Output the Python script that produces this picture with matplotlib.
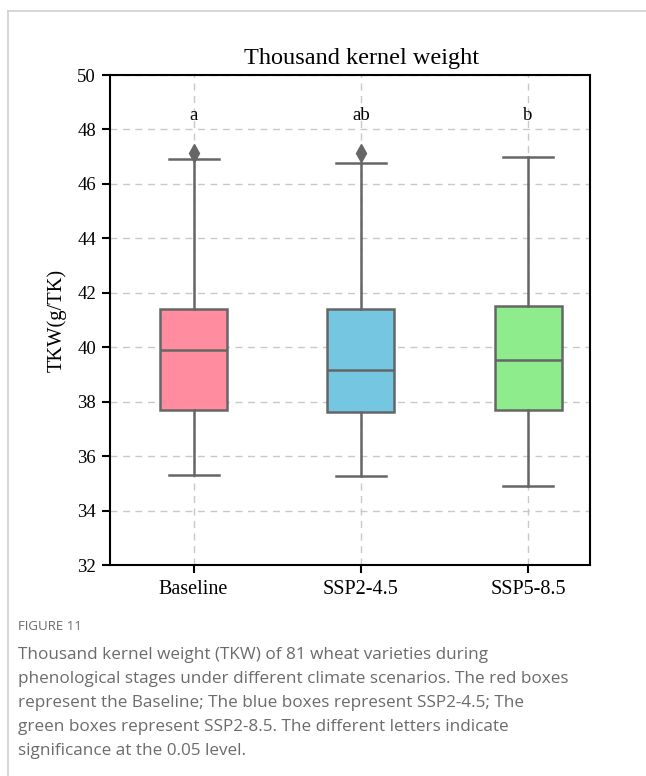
import matplotlib
matplotlib.use("Agg")
import matplotlib.pyplot as plt
from matplotlib.lines import Line2D

categories = ["Baseline", "SSP2-4.5", "SSP5-8.5"]
q1 = [37.68, 37.62, 37.68]
median = [39.89, 39.18, 39.52]
q3 = [41.39, 41.39, 41.51]
whislo = [35.30, 35.27, 34.92]
whishi = [46.90, 46.78, 46.99]
outliers = [[47.12], [47.12], []]
letters = ["a", "ab", "b"]
letter_y = 48.5
colors = ["#FF8C9F", "#74C6E1", "#8FEC8C"]
yticks = [32, 34, 36, 38, 40, 42, 44, 46, 48, 50]

serif = ["Liberation Serif", "DejaVu Serif"]
fig = plt.figure(figsize=(6.46, 7.76), dpi=100)
ax = fig.add_axes([110/646, 1-565/776, 480/646, 490/776])

stats = []
for i in range(len(categories)):
    stats.append(dict(q1=q1[i], med=median[i], q3=q3[i], whislo=whislo[i],
                      whishi=whishi[i], fliers=outliers[i], label=categories[i]))
edge = "#666666"
bp = ax.bxp(stats, positions=range(len(categories)), widths=0.4, patch_artist=True,
            boxprops=dict(edgecolor=edge, linewidth=1.8),
            medianprops=dict(color=edge, linewidth=1.8),
            whiskerprops=dict(color=edge, linewidth=1.8),
            capprops=dict(color=edge, linewidth=1.8),
            flierprops=dict(marker="d", markerfacecolor=edge, markeredgecolor=edge, markersize=9),
            capwidths=0.3, zorder=3)
for patch, c in zip(bp["boxes"], colors):
    patch.set_facecolor(c)

for i, t in enumerate(letters):
    ax.text(i, letter_y, t, ha="center", va="center", fontsize=13.5, family=serif, zorder=4)

ax.set_xlim(-0.5, 2.37)
ax.set_ylim(32, 50)
ax.set_yticks(yticks)
ax.grid(True, linestyle=(0, (5, 4)), color="#c8c8c8", linewidth=1.0, zorder=0)
ax.set_axisbelow(True)
for s in ax.spines.values():
    s.set_linewidth(1.5)
    s.set_color("black")
ax.tick_params(axis="both", direction="out", length=6, width=1.5, pad=4)
ax.tick_params(axis="x", labelsize=14.5, pad=5)
ax.tick_params(axis="y", labelsize=13.5)
for lab in ax.get_xticklabels() + ax.get_yticklabels():
    lab.set_family(serif)
ax.set_ylabel("TKW(g/TK)", fontsize=14.8, family=serif, labelpad=8)
ax.set_title("Thousand kernel weight", fontsize=17.5, family=serif, pad=8, x=0.525)

# outer frame
fig.add_artist(Line2D([8/646, 1], [1-11/776, 1-11/776], color="#d0d0d0", linewidth=1.2))
fig.add_artist(Line2D([8/646, 8/646], [0, 1-11/776], color="#d0d0d0", linewidth=1.2))

cap_font = ["Open Sans", "DejaVu Sans"]
fig.text(18/646, 1-627/776, "FIGURE 11", fontsize=9.5, color="#6b6b6b", family=cap_font, va="center")
caption = ["Thousand kernel weight (TKW) of 81 wheat varieties during",
           "phenological stages under different climate scenarios. The red boxes",
           "represent the Baseline; The blue boxes represent SSP2-4.5; The",
           "green boxes represent SSP2-8.5. The different letters indicate",
           "significance at the 0.05 level."]
for k, line in enumerate(caption):
    fig.text(18/646, 1-(655+24*k)/776, line, fontsize=12.3, color="#6b6b6b", family=cap_font, va="center")

fig.savefig("out.png", dpi=100)
